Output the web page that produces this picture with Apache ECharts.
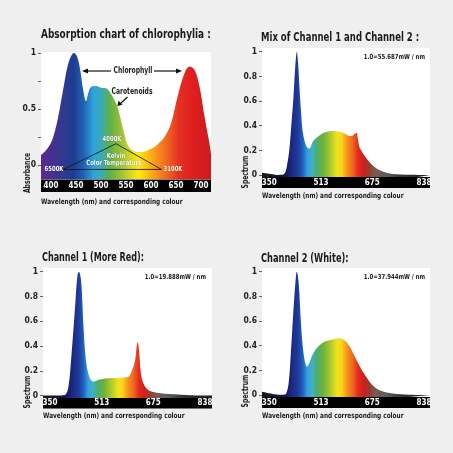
<!DOCTYPE html>
<html><head><meta charset="utf-8">
<script src="https://cdn.jsdelivr.net/npm/echarts@6/dist/echarts.min.js"></script>
<style>html,body{margin:0;padding:0;background:#efefef;}#c{width:453px;height:453px;}</style>
</head><body><div id="c"></div>
<script>
// ---- data (wavelength nm / relative value) ----
const absNm  = [380,388,395,403,413,423,433,440,446,452,458,464,470,475,481,491,500,510,517,527,533,540,547,553,560,567,577,587,597,607,617,627,640,653,667,677,687,697,707,717,720];
const absVal = [0.09,0.12,0.16,0.23,0.40,0.64,0.88,0.97,1.00,0.97,0.86,0.68,0.57,0.65,0.70,0.705,0.69,0.685,0.655,0.58,0.52,0.40,0.27,0.18,0.14,0.12,0.115,0.12,0.14,0.16,0.20,0.25,0.37,0.61,0.82,0.88,0.85,0.70,0.43,0.19,0.10];

const mixNm  = [327,345,361,375,392,400,406,413,420,426,432,437,441,445,450,455,461,466,471,477,487,498,508,525,550,570,581,592,602,612,618,623,626,629,634,640,645,655,665,680,697,712,728,750,780,820,857];
const mixVal = [0.019,0.012,0.006,0.001,0.002,0.02,0.08,0.2,0.42,0.62,0.88,1.00,0.90,0.72,0.52,0.36,0.28,0.24,0.222,0.216,0.27,0.30,0.32,0.345,0.357,0.352,0.343,0.33,0.316,0.318,0.33,0.338,0.343,0.30,0.23,0.20,0.176,0.14,0.108,0.07,0.04,0.024,0.013,0.006,0.002,0.001,0];

const ch1Nm  = [328,360,385,397,408,418,429,436,441,448,455,463,474,486,507,539,570,597,609,618,623,626,630,636,644,659,686,738,791,860];
const ch1Val = [0.002,0.002,0.002,0.005,0.07,0.34,0.72,0.96,1.00,0.93,0.58,0.29,0.15,0.113,0.13,0.142,0.145,0.153,0.21,0.29,0.40,0.43,0.37,0.18,0.10,0.046,0.024,0.011,0.003,0];

const ch2Nm  = [327,350,365,381,395,403,411,418,427,434,437,443,450,458,469,476,487,503,523,550,571,586,602,618,634,655,676,702,739,791,857];
const ch2Val = [0.027,0.014,0.007,0.003,0.003,0.01,0.095,0.34,0.72,0.96,1.00,0.90,0.58,0.34,0.23,0.257,0.33,0.39,0.43,0.45,0.46,0.446,0.40,0.32,0.24,0.15,0.08,0.035,0.013,0.003,0];

const absXTicks  = [400,450,500,550,600,650,700];
const specXTicks = [350,513,675,838];
const absYTicks  = [0,0.25,0.5,0.75,1];
const absYLabels = [0,0.5,1];
const specYTicks = [0,0.2,0.4,0.6,0.8,1];

const titles = ['Absorption chart of chlorophylia :','Mix of Channel 1 and Channel 2 :','Channel 1 (More Red):','Channel 2 (White):'];
const scaleNotes = ['1.0=55.687mW / nm','1.0=19.888mW / nm','1.0=37.944mW / nm'];
const xName = 'Wavelength (nm) and corresponding colour';

// ---- styling ----
const F = '"DejaVu Sans Condensed","Liberation Sans Narrow",Roboto,sans-serif';
const pair = (xs, ys) => xs.map((x, i) => [x, ys[i]]);
const G = echarts.graphic;

// colour stops by wavelength, mapped onto the x-extent of each area
const absColors = [[380,'#5a2a8c'],[400,'#4a2e8e'],[425,'#2e3a92'],[445,'#1e3c90'],[465,'#1f62b5'],[485,'#2ea3dc'],[500,'#3aaab8'],[518,'#5fb04a'],[535,'#8dbd3a'],[555,'#c8d22c'],[575,'#ffe616'],[590,'#fdc90f'],[610,'#f7941d'],[630,'#f26b22'],[655,'#e53222'],[680,'#e01f1f'],[720,'#cc1a1f']];
const specColors = [[327,'#1a1a1a'],[395,'#0f1645'],[415,'#1b237a'],[440,'#1e3a9a'],[455,'#1f5fbf'],[470,'#35a0e0'],[484,'#3fb0c8'],[500,'#4cad6a'],[520,'#6cb23c'],[540,'#a5c630'],[565,'#f2e41c'],[578,'#fbd31c'],[595,'#f7941d'],[612,'#f06a21'],[630,'#e52a1e'],[648,'#d01f1f'],[665,'#9a3a30'],[685,'#7a5a50'],[720,'#5c5c5c'],[770,'#333333'],[860,'#1a1a1a']];
function grad(stops, lo, hi){
  return new G.LinearGradient(0,0,1,0, stops.map(s=>({offset:Math.min(1,Math.max(0,(s[0]-lo)/(hi-lo))), color:s[1]})));
}

const gridsDef = [
  {left:41,  width:170, top:52,  height:127.5, band:12.5, xmin:380, xmax:720, ymin:-0.13,  ymax:1.009},
  {left:262, width:168, top:48,  height:129,   band:11,   xmin:327, xmax:857, ymin:-0.016, ymax:1.03},
  {left:43,  width:169, top:268, height:130,   band:10.5, xmin:328, xmax:860, ymin:-0.019, ymax:1.03},
  {left:262, width:168, top:268, height:129,   band:11,   xmin:327, xmax:857, ymin:-0.016, ymax:1.03}
];

const grid = gridsDef.map(g=>({left:g.left, top:g.top, width:g.width, height:g.height, show:true, backgroundColor:'#fff', borderWidth:0, containLabel:false}));
const xAxis = gridsDef.map((g,i)=>({
  type:'value', gridIndex:i, min:g.xmin, max:g.xmax, z:10,
  axisLine:{show:false}, axisTick:{show:false}, splitLine:{show:false},
  axisLabel:{customValues: i===0?absXTicks:specXTicks, color:'#fff', fontFamily:F, fontWeight:'bold', fontSize:8, margin:g.band/2, verticalAlign:'middle', showMinLabel:true, showMaxLabel:true}
}));
const yAxis = gridsDef.map((g,i)=>({
  type:'value', gridIndex:i, min:g.ymin, max:g.ymax,
  axisLine:{show:false}, splitLine:{show:false},
  axisTick:{show:true, customValues: i===0?absYTicks:specYTicks, length:3, lineStyle:{color:'#666', width:1}},
  axisLabel:{customValues: i===0?absYLabels:specYTicks, color:'#222', fontFamily:F, fontWeight:'bold', fontSize:8.5, margin:5}
}));

const mk = (i, xs, ys, colors) => ({
  type:'line', xAxisIndex:i, yAxisIndex:i, data:pair(xs, ys), smooth:0.35, showSymbol:false, symbol:'none',
  lineStyle:{width:0}, areaStyle:{color:grad(colors, xs[0], xs[xs.length-1]), opacity:1, origin:'start'}, silent:true
});
const series = [
  mk(0, absNm, absVal, absColors),
  mk(1, mixNm, mixVal, specColors),
  mk(2, ch1Nm, ch1Val, specColors),
  mk(3, ch2Nm, ch2Val, specColors),
  // Kelvin triangle (data coords)
  {type:'line', xAxisIndex:0, yAxisIndex:0, data:[[425,-0.04],[530,0.19],[621,-0.04],[425,-0.04]], showSymbol:false, symbol:'none', lineStyle:{color:'#111', width:0.8}, silent:true, z:5}
];

const txt = (x,y,text,o={},sx=0.84) => ({type:'text', x, y, scaleX:sx, silent:true, z:100, style:Object.assign({text, fill:'#1a1a1a', font:`bold 8px ${F}`, align:'left', verticalAlign:'middle'}, o)});
const rtxt = (x,y,text) => ({type:'text', x, y, rotation:Math.PI/2, scaleX:0.84, silent:true, z:100, style:{text, fill:'#1a1a1a', font:`bold 8px ${F}`, align:'center', verticalAlign:'middle'}});
const line = (x1,y1,x2,y2) => ({type:'line', silent:true, z:100, shape:{x1,y1,x2,y2}, style:{stroke:'#111', lineWidth:1.2}});
const head = (pts) => ({type:'polygon', silent:true, z:100, shape:{points:pts}, style:{fill:'#111'}});
const band = (g) => ({type:'rect', silent:true, z:1, shape:{x:g.left, y:g.top+g.height, width:g.width, height:g.band}, style:{fill:'#000'}});
const kel = {fill:'#fff', font:`bold 7px ${F}`, align:'center', textShadowColor:'rgba(0,0,0,0.5)', textShadowBlur:1};

const graphic = [
  ...gridsDef.map(band),
  txt(41, 35, titles[0], {font:`bold 11.5px ${F}`}, 0.863),
  txt(261, 38, titles[1], {font:`bold 11.5px ${F}`}, 0.823),
  txt(42, 258, titles[2], {font:`bold 11.5px ${F}`}, 0.78),
  txt(261, 259, titles[3], {font:`bold 11.5px ${F}`}, 0.80),
  txt(425, 57, scaleNotes[0], {align:'right', font:`bold 7px ${F}`}, 0.85),
  txt(206, 277, scaleNotes[1], {align:'right', font:`bold 7px ${F}`}, 0.85),
  txt(425, 277, scaleNotes[2], {align:'right', font:`bold 7px ${F}`}, 0.85),
  txt(41, 202, xName, {font:`bold 7.5px ${F}`}, 0.855),
  txt(262, 196, xName, {font:`bold 7.5px ${F}`}, 0.855),
  txt(43, 416, xName, {font:`bold 7.5px ${F}`}, 0.855),
  txt(262, 416, xName, {font:`bold 7.5px ${F}`}, 0.855),
  rtxt(28, 173, 'Absorbance'),
  rtxt(246, 172, 'Spectrum'),
  rtxt(28, 392, 'Spectrum'),
  rtxt(246, 391, 'Spectrum'),
  // chlorophyll annotation
  txt(133, 71, 'Chlorophyll', {align:'center', font:`bold 8px ${F}`}),
  line(86, 71, 111, 71), head([[82,71],[88,68.5],[88,73.5]]),
  line(154, 71, 178, 71), head([[182,71],[176,68.5],[176,73.5]]),
  txt(132, 91.5, 'Carotenoids', {align:'center', font:`bold 8px ${F}`}),
  line(127.5, 97, 120.5, 103.5), head([[117.3,106],[118.5,100.8],[122.5,104.8]]),
  // kelvin labels
  txt(112, 139.5, '4000K', kel),
  txt(116, 156, 'Kelvin', kel),
  txt(114, 163.5, 'Color Temperature', kel),
  txt(54, 169.5, '6500K', kel),
  txt(173, 169.5, '3100K', Object.assign({}, kel, {fill:'#fff8e0', textShadowColor:'rgba(120,60,0,0.6)'}))
];

const chart = echarts.init(document.getElementById('c'), null, {renderer:'canvas'});
chart.setOption({backgroundColor:'#efefef', animation:false, grid, xAxis, yAxis, series, graphic});
</script></body></html>
